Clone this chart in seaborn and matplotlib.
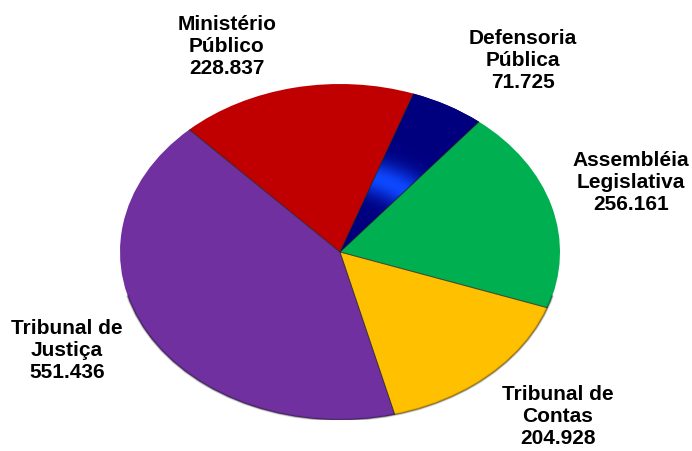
import numpy as np
import matplotlib
matplotlib.use("Agg")
import matplotlib.pyplot as plt
from matplotlib.patches import Arc
import seaborn as sns

# Budget by institution (clockwise from the Defensoria slice)
categories = ["Defensoria\nPública", "Assembléia\nLegislativa", "Tribunal de\nContas",
              "Tribunal de\nJustiça", "Ministério\nPúblico"]
values = [71725, 256161, 204928, 551436, 228837]
colors = ["#000080", "#00B050", "#FFC000", "#7030A0", "#C00000"]

sns.set_style("white")
plt.rcParams["font.family"] = ["Liberation Sans", "DejaVu Sans"]
palette = sns.color_palette(colors)

W, H = 692, 451
fig = plt.figure(figsize=(W / 100, H / 100), dpi=100)
# elliptical pie: axes box spans the ellipse bounds
ax = fig.add_axes([120 / W, (H - 420) / H, 440 / W, 336 / H])

wedges, _ = ax.pie(values, colors=palette, startangle=70.5, counterclock=False,
                   radius=1.0, center=(0, 0),
                   wedgeprops=dict(edgecolor="none", linewidth=0))
ax.set_aspect("auto")
ax.set_xlim(-1.0, 1.0)
ax.set_ylim(-1.0, 1.0)
ax.axis("off")

# radial highlight band on the Defensoria slice
n = 500
gx, gy = np.meshgrid(np.linspace(-1, 1, n), np.linspace(-1, 1, n))
r = np.hypot(gx, gy)
band = np.exp(-((r - 0.47) / 0.1) ** 2)
dark = np.array([0.0, 0.0, 0.50])
bright = np.array([0.05, 0.28, 1.0])
img = dark[None, None, :] + (bright - dark)[None, None, :] * band[..., None]
im = ax.imshow(img, extent=(-1, 1, -1, 1), origin="lower", aspect="auto",
               interpolation="bilinear", zorder=wedges[0].get_zorder() + 0.1)
im.set_clip_path(wedges[0])

# thin dark separators between slices
for w in wedges:
    a = np.deg2rad(w.theta1)
    ax.plot([0, np.cos(a)], [0, np.sin(a)], color="#1e1e1e", lw=0.7,
            alpha=0.8, zorder=5, solid_capstyle="butt")

# soft shading along the lower rim
for lw, al in [(2.2, 0.12), (1.0, 0.35)]:
    ax.add_patch(Arc((0, 0), 2.0, 2.0, theta1=195, theta2=345, color="black",
                     lw=lw, alpha=al, zorder=4))

# labels with values
label_pos = [(523, 61), (631, 183), (558, 417), (67, 351), (227, 47)]
for name, val, (px, py) in zip(categories, values, label_pos):
    txt = f"{name}\n{val:,}".replace(",", ".")
    fig.text(px / W, 1 - py / H, txt, ha="center", va="center",
             fontsize=15, fontweight="bold", color="black", linespacing=1.2)

fig.savefig("out.png", dpi=100)
